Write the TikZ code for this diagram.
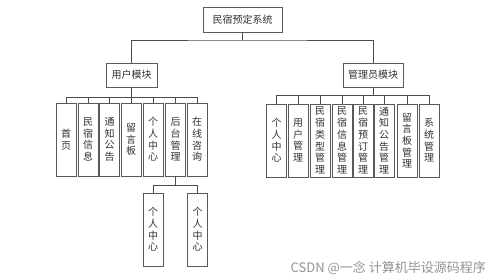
\documentclass[tikz,border=0pt]{standalone}
\usepackage{fontspec}
\setmainfont{Noto Sans CJK SC}
\begin{document}
\begin{tikzpicture}[x=1pt, y=-1pt,
  box/.style={draw=black!65, line width=0.7pt, fill=white, inner sep=0pt,
    text=black!80, font=\fontsize{10}{11.7}\selectfont},
  vbox/.style={box, minimum width=20pt, minimum height=73pt, align=center, text width=10pt},
  link/.style={draw=black!70, line width=0.7pt}]
  \useasboundingbox[fill=white] (0,0) rectangle (499,280);

  % --- top level ---
  \node[box, minimum width=79pt, minimum height=25pt] (root) at (242.5,19.5) {民宿预定系统};
  \node[box, minimum width=51pt, minimum height=24pt] (user) at (131.5,75) {用户模块};
  \node[box, minimum width=60pt, minimum height=24pt] (admin) at (373,75) {管理员模块};

  \coordinate (topbus) at (242.5,40);
  \draw[link] (root) -- (topbus);
  \draw[link] (user.north) |- (topbus) -| (admin.north);

  % --- user module ---
  \coordinate (ubus) at (131.5,97);
  \draw[link] (user) -- (ubus);
  \foreach \x/\t [count=\i] in {66/{首\\页}, 88/{民\\宿\\信\\息}, 109.5/{通\\知\\公\\告},
      131/{留\\言\\板}, 153/{个\\人\\中\\心}, 175.5/{后\\台\\管\\理}, 197/{在\\线\\咨\\询}} {
    \node[vbox] (u\i) at (\x,139.5) {\t};
    \draw[link] (u\i.north) |- (ubus);
  }

  % --- admin module ---
  \coordinate (abus) at (373,95);
  \draw[link] (admin) -- (abus);
  \foreach \x/\t [count=\i] in {276.5/{个\\人\\中\\心}, 298/{用\\户\\管\\理},
      320/{民\\宿\\类\\型\\管\\理}, 342/{民\\宿\\信\\息\\管\\理}, 363/{民\\宿\\预\\订\\管\\理},
      384/{通\\知\\公\\告\\管\\理}, 407/{留\\言\\板\\管\\理}, 429/{系\\统\\管\\理}} {
    \node[vbox] (a\i) at (\x,140.5) {\t};
    \draw[link] (a\i.north) |- (abus);
  }

  % --- back office ---
  \coordinate (sbus) at (175.5,185);
  \draw[link] (u6) -- (sbus);
  \foreach \x [count=\i] in {153, 197.5} {
    \node[vbox] (s\i) at (\x,229.5) {个\\人\\中\\心};
    \draw[link] (s\i.north) |- (sbus);
  }

  % --- watermark ---
  \node[anchor=east, inner sep=0pt, text=black!42, font=\fontsize{13}{13}\selectfont]
    (mark) at (486,268) {CSDN @一念 计算机毕设源码程序};

\end{tikzpicture}
\end{document}
